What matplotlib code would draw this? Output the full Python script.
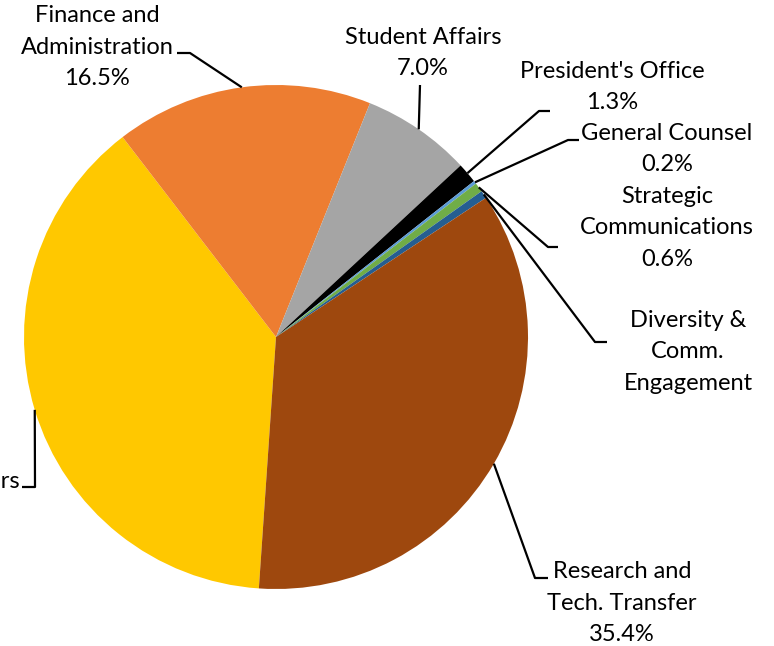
import numpy as np
import matplotlib
matplotlib.use("Agg")
import matplotlib.pyplot as plt
from matplotlib.transforms import Bbox, TransformedBbox

categories = ["Academic Affairs", "Finance and\nAdministration", "Student Affairs",
              "President's Office", "General Counsel", "Strategic\nCommunications",
              "Diversity &\nComm.\nEngagement", "Research and\nTech. Transfer"]
values = [38.5, 16.5, 7.0, 1.3, 0.2, 0.6, 0.5, 35.4]
pct_labels = ["38.5%", "16.5%", "7.0%", "1.3%", "0.2%", "0.6%", "", "35.4%"]
colors = ["#FFC800", "#ED7D31", "#A5A5A5", "#000000", "#5B9BD5", "#70AD47", "#255E91", "#9E480E"]

W, H = 774, 646
fig = plt.figure(figsize=(W / 100, H / 100), dpi=100)
ax = fig.add_axes([0, 0, 1, 1])

cx, cy, R = 276, H - 337, 252
wedges, _ = ax.pie(values, colors=colors, startangle=266.1, counterclock=False,
                   center=(cx, cy), radius=R,
                   wedgeprops=dict(edgecolor="none", linewidth=0))
ax.set_xlim(0, W)
ax.set_ylim(0, H)
ax.set_aspect("equal")
ax.axis("off")

font = dict(family=["Lato", "DejaVu Sans"], fontsize=17, color="black")
clipbox = TransformedBbox(Bbox([[0, 0], [756, H]]), ax.transData)

# label layout: (elbow point, end point, text x, text y, ha) in pixel coords (y from top)
layout = {
    0: dict(elbow=(35, 487), end=(22, 487), tx=20, ty=482, ha="right"),
    1: dict(elbow=(190, 53), end=(177, 53), tx=97, ty=47, ha="center"),
    2: dict(elbow=None, end=(420, 85), tx=423, ty=53, ha="center"),
    3: dict(elbow=(539, 111), end=(550, 111), tx=612, ty=87, ha="center"),
    4: dict(elbow=(568, 140), end=(579, 140), tx=667, ty=149, ha="center"),
    5: dict(elbow=(548, 247), end=(558, 247), tx=667, ty=228, ha="center"),
    6: dict(elbow=(595, 342), end=(607, 342), tx=688, ty=352, ha="center"),
    7: dict(elbow=(535, 578), end=(548, 578), tx=622, ty=603, ha="center"),
}

for i, w in enumerate(wedges):
    mid = np.deg2rad((w.theta1 + w.theta2) / 2)
    ex, ey = cx + R * np.cos(mid), cy + R * np.sin(mid)
    L = layout[i]
    pts = [(ex, ey)]
    if L["elbow"] is not None:
        pts.append((L["elbow"][0], H - L["elbow"][1]))
    pts.append((L["end"][0], H - L["end"][1]))
    xs, ys = zip(*pts)
    ax.plot(xs, ys, color="black", lw=1.6, solid_capstyle="butt", zorder=3)
    txt = categories[i]
    if i == 0:
        txt = "Academic Affairs"
    elif pct_labels[i]:
        txt = txt + "\n" + pct_labels[i]
    t = ax.text(L["tx"], H - L["ty"], txt, ha=L["ha"], va="center",
                multialignment="center", linespacing=1.6, **font)
    t.set_clip_box(clipbox)
    t.set_clip_on(True)

fig.savefig("out.png", dpi=100)
